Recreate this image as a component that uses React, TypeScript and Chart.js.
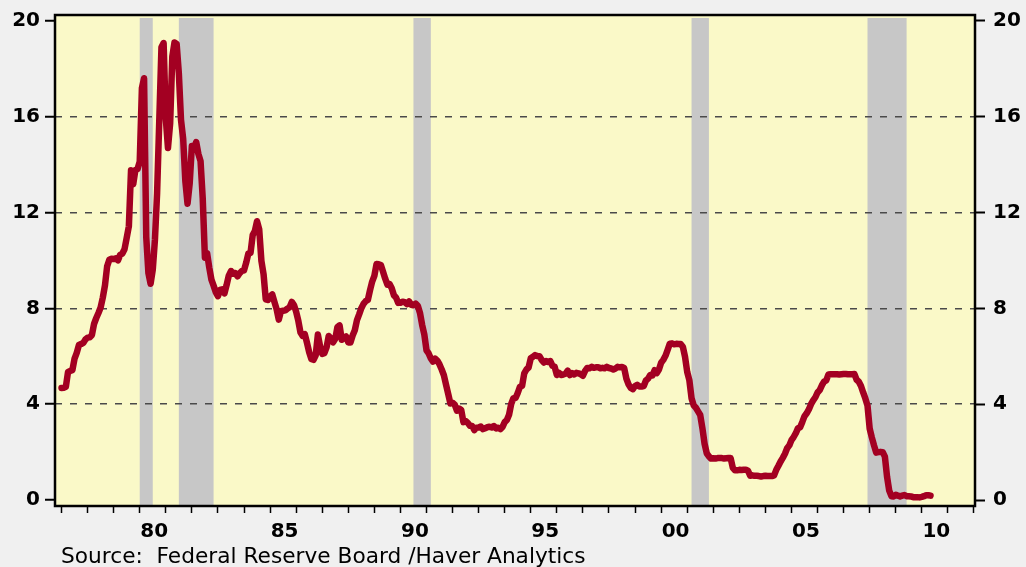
import React, { useEffect, useRef } from 'react';
import { Chart, registerables } from 'chart.js';

Chart.register(...registerables);

// Monthly federal funds rate, one row per year (Jan..Dec positions)
const START_YEAR = 1977;
const r1977 = [4.68, 4.69, 4.73, 5.35, 5.39, 5.42, 5.90, 6.14, 6.47, 6.51, 6.56, 6.70];
const r1978 = [6.78, 6.79, 6.89, 7.36, 7.60, 7.81, 8.04, 8.45, 8.96, 9.76, 10.03, 10.07];
const r1979 = [10.06, 10.09, 10.01, 10.24, 10.29, 10.47, 10.94, 11.43, 13.77, 13.18, 13.78, 13.82];
const r1980 = [14.13, 17.19, 17.61, 10.98, 9.47, 9.03, 9.61, 10.87, 12.81, 15.85, 18.90, 19.08];
const r1981 = [15.93, 14.70, 15.72, 18.52, 19.10, 19.04, 17.82, 15.87, 15.08, 13.31, 12.37, 13.22];
const r1982 = [14.78, 14.68, 14.94, 14.45, 14.15, 12.59, 10.12, 10.31, 9.71, 9.20, 8.95, 8.68];
const r1983 = [8.51, 8.77, 8.80, 8.63, 8.98, 9.37, 9.56, 9.45, 9.48, 9.34, 9.47, 9.56];
const r1984 = [9.59, 9.91, 10.29, 10.32, 11.06, 11.23, 11.64, 11.30, 9.99, 9.43, 8.38, 8.35];
const r1985 = [8.50, 8.58, 8.27, 7.97, 7.53, 7.88, 7.90, 7.92, 7.99, 8.05, 8.27, 8.14];
const r1986 = [7.86, 7.48, 6.99, 6.85, 6.92, 6.56, 6.17, 5.89, 5.85, 6.04, 6.91, 6.43];
const r1987 = [6.10, 6.13, 6.37, 6.85, 6.73, 6.58, 6.73, 7.22, 7.29, 6.69, 6.77, 6.83];
const r1988 = [6.58, 6.58, 6.87, 7.09, 7.51, 7.75, 8.01, 8.19, 8.30, 8.35, 8.76, 9.12];
const r1989 = [9.36, 9.85, 9.84, 9.81, 9.53, 9.24, 8.99, 9.02, 8.84, 8.55, 8.45, 8.23];
const r1990 = [8.24, 8.28, 8.26, 8.18, 8.29, 8.15, 8.13, 8.20, 8.11, 7.81, 7.31, 6.91];
const r1991 = [6.25, 6.12, 5.91, 5.78, 5.90, 5.82, 5.66, 5.45, 5.21, 4.81, 4.43, 4.03];
const r1992 = [4.06, 3.98, 3.73, 3.82, 3.76, 3.25, 3.30, 3.22, 3.10, 3.09, 2.92, 3.02];
const r1993 = [3.03, 3.07, 2.96, 3.00, 3.04, 3.06, 3.03, 3.09, 2.99, 3.02, 2.96, 3.05];
const r1994 = [3.25, 3.34, 3.56, 4.01, 4.25, 4.26, 4.47, 4.73, 4.76, 5.29, 5.45, 5.53];
const r1995 = [5.92, 5.98, 6.05, 6.01, 6.00, 5.85, 5.74, 5.80, 5.76, 5.80, 5.60, 5.56];
const r1996 = [5.22, 5.31, 5.22, 5.24, 5.27, 5.40, 5.22, 5.30, 5.24, 5.31, 5.29, 5.25];
const r1997 = [5.19, 5.39, 5.51, 5.50, 5.56, 5.52, 5.54, 5.54, 5.50, 5.52, 5.50, 5.56];
const r1998 = [5.51, 5.49, 5.45, 5.49, 5.56, 5.54, 5.55, 5.51, 5.07, 4.83, 4.68, 4.63];
const r1999 = [4.76, 4.81, 4.74, 4.74, 4.76, 4.99, 5.07, 5.22, 5.20, 5.42, 5.30, 5.45];
const r2000 = [5.73, 5.85, 6.02, 6.27, 6.53, 6.54, 6.50, 6.52, 6.51, 6.51, 6.40, 5.98];
const r2001 = [5.35, 5.0, 4.25, 3.95, 3.85, 3.7, 3.55, 3.0, 2.35, 1.95, 1.82, 1.73];
const r2002 = [1.74, 1.73, 1.75, 1.75, 1.75, 1.73, 1.74, 1.75, 1.75, 1.34, 1.24, 1.24];
const r2003 = [1.26, 1.25, 1.26, 1.26, 1.22, 1.01, 1.03, 1.01, 1.01, 1.00, 0.98, 1.00];
const r2004 = [1.01, 1.00, 1.00, 1.00, 1.03, 1.26, 1.43, 1.61, 1.76, 1.93, 2.16, 2.28];
const r2005 = [2.50, 2.63, 2.79, 3.00, 3.04, 3.26, 3.50, 3.62, 3.78, 4.00, 4.16, 4.29];
const r2006 = [4.49, 4.59, 4.79, 4.94, 4.99, 5.24, 5.25, 5.25, 5.25, 5.25, 5.24, 5.25];
const r2007 = [5.26, 5.26, 5.25, 5.25, 5.25, 5.26, 5.02, 4.94, 4.76, 4.49, 4.24, 3.94];
const r2008 = [2.98, 2.61, 2.28, 1.98, 2.00, 2.01, 2.00, 1.81, 0.97, 0.39, 0.16, 0.15];
const r2009 = [0.22, 0.18, 0.15, 0.18, 0.21, 0.16, 0.16, 0.15, 0.12, 0.12, 0.12, 0.11];
const r2010 = [0.13, 0.16, 0.20, 0.20, 0.18];

const rateRows = [
  r1977, r1978, r1979, r1980, r1981, r1982, r1983, r1984, r1985, r1986, r1987, r1988,
  r1989, r1990, r1991, r1992, r1993, r1994, r1995, r1996, r1997, r1998, r1999, r2000,
  r2001, r2002, r2003, r2004, r2005, r2006, r2007, r2008, r2009, r2010,
];

// Recessions (peak month start -> trough month start), decimal years
const recessionStart = [1980, 1981 + 6 / 12, 1990 + 6 / 12, 2001 + 2 / 12, 2007 + 11 / 12];
const recessionEnd = [1980 + 6 / 12, 1982 + 10 / 12, 1991 + 2 / 12, 2001 + 10 / 12, 2009 + 5 / 12];

const yTicks = [0, 4, 8, 12, 16, 20];
const yGridValues = [4, 8, 12, 16];
const xTickYears = [
  1977, 1978, 1979, 1980, 1981, 1982, 1983, 1984, 1985, 1986, 1987, 1988, 1989, 1990, 1991, 1992,
  1993, 1994, 1995, 1996, 1997, 1998, 1999, 2000, 2001, 2002, 2003, 2004, 2005, 2006, 2007, 2008,
  2009, 2010, 2011, 2012,
];
const xLabelYears = [1980, 1985, 1990, 1995, 2000, 2005, 2010];
const X_MIN = 1976.75;
const X_MAX = 2012.04;
const Y_MIN = -0.25;
const Y_MAX = 20.25;
const sourceText = 'Source:  Federal Reserve Board /Haver Analytics';

const LINE_COLOR = '#a30022';
const PLOT_BG = '#faf9c8';
const PAGE_BG = '#f0f0f0';
const SHADE = '#c7c7c7';
const TICK_FONT = { family: '"DejaVu Sans", sans-serif', size: 20, weight: 'bold' as const };

export default function App() {
  const canvasRef = useRef<HTMLCanvasElement | null>(null);

  useEffect(() => {
    const canvas = canvasRef.current;
    if (!canvas) return;

    const points: { x: number; y: number }[] = [];
    rateRows.forEach((row, yi) => {
      row.forEach((v, m) => {
        points.push({ x: START_YEAR + yi + m / 12, y: v });
      });
    });

    const framePlugin = {
      id: 'frameAndShading',
      beforeDraw(chart: any) {
        const { ctx, chartArea: a, scales } = chart;
        ctx.save();
        ctx.fillStyle = PAGE_BG;
        ctx.fillRect(0, 0, chart.width, chart.height);
        ctx.fillStyle = PLOT_BG;
        ctx.fillRect(a.left, a.top, a.right - a.left, a.bottom - a.top);
        ctx.fillStyle = SHADE;
        recessionStart.forEach((s, i) => {
          const x1 = scales.x.getPixelForValue(s);
          const x2 = scales.x.getPixelForValue(recessionEnd[i]);
          ctx.fillRect(x1, a.top + 3, x2 - x1, a.bottom - a.top - 4);
        });
        ctx.restore();
      },
      afterDraw(chart: any) {
        const { ctx, chartArea: a } = chart;
        ctx.save();
        ctx.strokeStyle = '#000';
        ctx.lineWidth = 2.5;
        ctx.strokeRect(a.left, a.top, a.right - a.left, a.bottom - a.top);
        ctx.fillStyle = '#000';
        ctx.font = '21.7px "DejaVu Sans", sans-serif';
        ctx.textBaseline = 'alphabetic';
        ctx.textAlign = 'left';
        ctx.fillText(sourceText, 61, 563);
        ctx.restore();
      },
    };

    const setYTicks = (scale: any) => {
      scale.ticks = yTicks.map((v) => ({ value: v }));
    };
    const noPadding = (scale: any) => {
      scale.paddingTop = 0;
      scale.paddingBottom = 0;
      scale.paddingLeft = 0;
      scale.paddingRight = 0;
    };

    const chart = new Chart(canvas, {
      type: 'line',
      data: {
        datasets: [
          {
            data: points,
            borderColor: LINE_COLOR,
            borderWidth: 6.5,
            pointRadius: 0,
            tension: 0,
            borderJoinStyle: 'round',
            borderCapStyle: 'round',
            fill: false,
          },
        ],
      },
      options: {
        responsive: false,
        animation: false,
        devicePixelRatio: 1,
        layout: { padding: { top: 15, left: 0, right: 0, bottom: 0 } },
        plugins: { legend: { display: false }, tooltip: { enabled: false } },
        scales: {
          x: {
            type: 'linear',
            position: 'bottom',
            min: X_MIN,
            max: X_MAX,
            afterBuildTicks: (scale: any) => {
              scale.ticks = xTickYears.map((v) => ({ value: v }));
            },
            afterFit: (scale: any) => {
              scale.height = 61;
              noPadding(scale);
            },
            ticks: {
              autoSkip: false,
              maxRotation: 0,
              minRotation: 0,
              labelOffset: 14.5,
              padding: 7,
              color: '#000',
              font: TICK_FONT,
              callback: (value: any) =>
                xLabelYears.includes(Number(value)) ? String(value).slice(2) : '',
            },
            grid: {
              drawOnChartArea: false,
              drawTicks: true,
              tickLength: 7,
              tickColor: '#000',
              tickWidth: 1.5,
            },
            border: { display: false },
          },
          y: {
            type: 'linear',
            position: 'left',
            min: Y_MIN,
            max: Y_MAX,
            afterBuildTicks: setYTicks,
            afterFit: (scale: any) => {
              scale.width = 55;
              noPadding(scale);
            },
            ticks: { color: '#000', font: TICK_FONT, padding: 5 },
            grid: {
              drawOnChartArea: true,
              color: (ctx: any) =>
                ctx.tick && yGridValues.includes(ctx.tick.value) ? '#4a4a4a' : 'rgba(0,0,0,0)',
              lineWidth: 1.5,
              drawTicks: true,
              tickLength: 10,
              tickColor: '#000',
              tickWidth: 2,
            },
            border: { display: false, dash: [7, 8] },
          },
          y2: {
            type: 'linear',
            position: 'right',
            min: Y_MIN,
            max: Y_MAX,
            afterBuildTicks: setYTicks,
            afterFit: (scale: any) => {
              scale.width = 51;
              noPadding(scale);
            },
            ticks: { color: '#000', font: TICK_FONT, padding: 8 },
            grid: {
              drawOnChartArea: false,
              drawTicks: true,
              tickLength: 10,
              tickColor: '#000',
              tickWidth: 2,
            },
            border: { display: false },
          },
        },
      },
      plugins: [framePlugin],
    } as any);

    return () => {
      chart.destroy();
    };
  }, []);

  return (
    <div
      style={{
        position: 'absolute',
        left: 0,
        top: 0,
        width: 1026,
        height: 567,
        background: PAGE_BG,
      }}
    >
      <canvas ref={canvasRef} width={1026} height={567} style={{ display: 'block' }} />
    </div>
  );
}
